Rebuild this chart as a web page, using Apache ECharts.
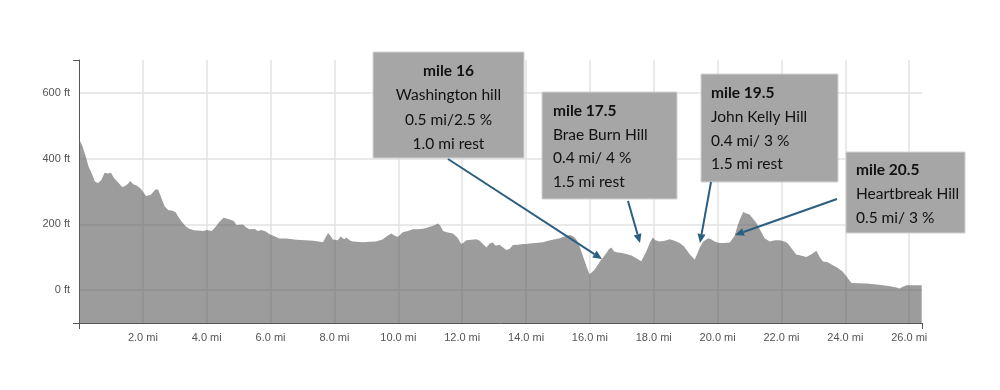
<!DOCTYPE html>
<html>
<head>
<meta charset="utf-8">
<script src="https://cdn.jsdelivr.net/npm/echarts@6/dist/echarts.min.js"></script>
<style>
html,body{margin:0;padding:0;background:#fff;}
#chart{width:1000px;height:390px;}
</style>
</head>
<body>
<div id="chart"></div>
<script>
// ---- data ----
const miles = [0.0,0.1,0.2,0.3,0.4,0.5,0.6,0.7,0.8,0.9,1.0,1.1,1.25,1.35,1.45,1.55,1.6,1.7,1.8,1.92,2.0,2.1,2.25,2.4,2.48,2.55,2.68,2.8,2.9,3.02,3.1,3.2,3.33,3.45,3.6,3.75,3.9,4.0,4.16,4.3,4.4,4.53,4.72,4.85,4.93,5.13,5.25,5.34,5.5,5.6,5.71,5.85,5.97,6.1,6.28,6.5,6.8,7.1,7.33,7.5,7.64,7.72,7.8,7.88,7.95,8.1,8.2,8.3,8.37,8.5,8.58,8.9,9.1,9.3,9.52,9.65,9.78,9.9,9.99,10.14,10.3,10.46,10.6,10.77,10.9,10.98,11.1,11.24,11.32,11.4,11.55,11.71,11.85,11.97,12.05,12.13,12.3,12.44,12.55,12.65,12.76,12.86,12.96,13.05,13.17,13.3,13.38,13.49,13.59,13.75,13.9,14.0,14.11,14.3,14.53,14.7,14.9,15.05,15.2,15.37,15.45,15.52,15.6,15.68,15.76,15.84,15.92,15.99,16.07,16.15,16.3,16.42,16.51,16.6,16.67,16.75,16.83,17.0,17.14,17.3,17.45,17.61,17.7,17.77,17.88,17.97,18.05,18.18,18.35,18.5,18.65,18.81,18.95,19.12,19.28,19.36,19.44,19.55,19.7,19.8,19.9,20.06,20.2,20.38,20.53,20.62,20.69,20.8,20.9,21.0,21.1,21.21,21.35,21.47,21.63,21.8,21.94,22.1,22.2,22.33,22.46,22.6,22.78,22.95,23.09,23.2,23.3,23.45,23.61,23.75,23.92,24.05,24.19,24.4,24.66,24.9,25.18,25.4,25.6,25.7,25.8,25.91,26.1,26.39];
const elevationFt = [460,440,410,375,355,330,326,335,357,355,357,340,325,314,317,325,332,322,318,310,300,286,290,307,305,288,255,243,242,238,225,210,195,187,182,181,180,183,180,195,208,220,215,210,198,200,190,185,186,180,183,178,170,165,157,157,153,152,150,148,146,160,174,165,154,152,163,155,160,150,148,146,147,148,155,165,172,165,162,176,180,185,185,187,190,193,196,203,195,180,175,172,160,140,145,152,153,155,150,140,130,142,145,135,138,128,122,126,137,138,140,140,142,143,146,150,155,158,163,168,165,160,150,132,110,87,65,48,55,63,85,100,112,125,130,118,115,113,110,105,97,88,105,118,145,160,152,148,150,155,150,143,133,110,93,110,130,148,158,155,148,143,143,145,165,195,213,238,233,230,218,205,180,158,148,152,152,148,142,125,108,105,101,110,120,100,87,85,76,68,56,40,22,21,20,18,15,12,8,5,10,15,15,15];
const xTickLabels = [2,4,6,8,10,12,14,16,18,20,22,24,26];
const yTickLabels = [0,200,400,600];
const annotationTitles = ['mile 16','mile 17.5','mile 19.5','mile 20.5'];
const annotationLines = [
  ['Washington hill','0.5 mi/2.5 %','1.0 mi rest'],
  ['Brae Burn Hill','0.4 mi/ 4 %','1.5 mi rest'],
  ['John Kelly Hill','0.4 mi/ 3 %','1.5 mi rest'],
  ['Heartbreak Hill','0.5 mi/ 3 %']
];

// ---- layout of annotation boxes / arrows (pixels) ----
const boxLayout = [
  {x:373,y:52,w:151,h:106,tx:448.5,ty:70.7,lh:24.4,align:'center',from:[448,159],to:[602,259]},
  {x:542,y:92,w:135,h:107,tx:553,ty:111,lh:23.5,align:'left',from:[628,201],to:[640,243]},
  {x:701,y:74,w:137,h:108,tx:711,ty:93.3,lh:23.6,align:'left',from:[711,182],to:[700,243]},
  {x:846,y:152,w:119,h:81,tx:856,ty:170,lh:24.1,align:'left',from:[837,199],to:[735,235]}
];

const chart = echarts.init(document.getElementById('chart'), null, {renderer:'canvas'});
const seriesData = miles.map((m,i)=>[m, elevationFt[i]]);

const boxFont = 'Lato, "Open Sans", sans-serif';
const arrowColor = '#2b5f82';
const graphics = [];
boxLayout.forEach((b, i) => {
  graphics.push({type:'rect', shape:{x:b.x,y:b.y,width:b.w,height:b.h}, style:{fill:'#a6a6a6', stroke:'#d2d2d2', lineWidth:1}, z:100});
  const lines = [annotationTitles[i]].concat(annotationLines[i]);
  lines.forEach((t, j) => {
    graphics.push({type:'text', x:b.tx, y:b.ty + j*b.lh, z:101,
      style:{text:t, fill:'#111', font:(j===0?'bold ':'') + '15.5px ' + boxFont, textAlign:b.align, textVerticalAlign:'middle'}});
  });
  // arrow
  const [x1,y1] = b.from, [x2,y2] = b.to;
  const dx = x2-x1, dy = y2-y1, len = Math.sqrt(dx*dx+dy*dy);
  const ux = dx/len, uy = dy/len;
  const hl = 9, hw = 4;
  const bx = x2 - ux*hl, by = y2 - uy*hl;
  graphics.push({type:'line', shape:{x1:x1,y1:y1,x2:bx,y2:by}, style:{stroke:arrowColor, lineWidth:2}, z:100});
  graphics.push({type:'polygon', shape:{points:[[x2,y2],[bx - uy*hw, by + ux*hw],[bx + uy*hw, by - ux*hw]]}, style:{fill:arrowColor}, z:100});
});

const labelStyle = {color:'#555', fontSize:11, fontFamily:'"Liberation Sans", Arial, sans-serif'};

chart.setOption({
  animation:false,
  grid:{left:79, right:78, top:60, bottom:67},
  xAxis:[{
    type:'value', min:0, max:26.4, interval:2,
    axisLine:{show:true, onZero:false, lineStyle:{color:'#555', width:1}},
    axisTick:{show:false},
    axisLabel:Object.assign({margin:9, formatter:v => xTickLabels.includes(v) ? v.toFixed(1)+' mi' : '', showMinLabel:false, showMaxLabel:true}, labelStyle),
    splitLine:{show:true, showMinLine:false, showMaxLine:false, lineStyle:{color:'#e2e2e2', width:1.5}}
  },{
    type:'value', min:0, max:26.4, interval:26.4, position:'bottom',
    axisLine:{show:false, onZero:false}, axisTick:{show:true, length:6, lineStyle:{color:'#555'}},
    axisLabel:{show:false}, splitLine:{show:false}
  }],
  yAxis:[{
    type:'value', min:-100, max:700, interval:100,
    axisLine:{show:true, onZero:false, lineStyle:{color:'#555', width:1}},
    axisTick:{show:false},
    axisLabel:Object.assign({margin:9, formatter:v => yTickLabels.includes(v) ? v+' ft' : ''}, labelStyle),
    splitLine:{show:true, lineStyle:{color:['rgba(0,0,0,0)','#e2e2e2'], width:1.5}}
  },{
    type:'value', min:-100, max:700, interval:800, position:'left',
    axisLine:{show:false, onZero:false}, axisTick:{show:true, length:6, lineStyle:{color:'#555'}},
    axisLabel:{show:false}, splitLine:{show:false}
  }],
  series:[{
    type:'line', xAxisIndex:0, yAxisIndex:0, data:seriesData, showSymbol:false, symbol:'none',
    lineStyle:{width:0}, areaStyle:{color:'rgba(95,95,95,0.62)', opacity:1, origin:'start'}, z:2
  }],
  graphic:graphics
});
</script>
</body>
</html>
